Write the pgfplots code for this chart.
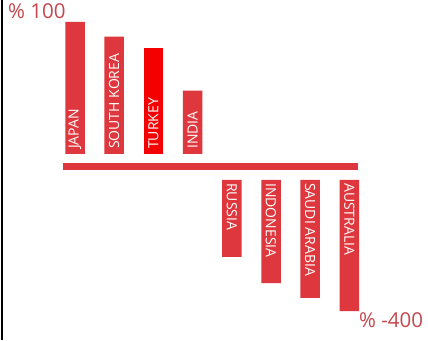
\documentclass[border=0pt]{standalone}
\usepackage{pgfplots}
\pgfplotsset{compat=1.18}
\usepackage{fontspec}
\setmainfont{Open Sans}
\definecolor{barred}{RGB}{222,56,62}
\definecolor{turkred}{RGB}{245,0,0}
\definecolor{labred}{RGB}{196,72,78}
\begin{document}
\begin{tikzpicture}[x=1pt,y=1pt]
\useasboundingbox (0,0) rectangle (428,340);
\fill[white] (0,0) rectangle (428,340);
% left vertical line
\fill[black] (1,0) rectangle (3,340);
% top axis: positive values
\begin{axis}[
  at={(35.8pt,186pt)}, anchor=south west,
  scale only axis, x=39.2pt, y=1.32pt,
  xmin=-1, xmax=8, ymin=0, ymax=100,
  axis lines=none, clip=false,
  ybar, bar width=19.5pt, bar shift=0pt,
]
\addplot[fill=barred, draw=none] coordinates {(0,100) (1,89) (3,48)};
\addplot[fill=turkred, draw=none] coordinates {(2,80)};
\foreach \i/\name in {0/JAPAN,1/SOUTH KOREA,2/TURKEY,3/INDIA}{
  \edef\tmp{\noexpand\node[rotate=90, anchor=west, text=white, font=\noexpand\fontsize{14}{14}\noexpand\selectfont, inner sep=0pt] at (axis cs:\i,0) {\noexpand\hspace{5pt}\name};}
  \tmp
}
\end{axis}
% bottom axis: negative values
\begin{axis}[
  at={(35.8pt,29pt)}, anchor=south west,
  scale only axis, x=39.2pt, y=0.3275pt,
  xmin=-1, xmax=8, ymin=-400, ymax=0,
  axis lines=none, clip=false,
  ybar, bar width=19.5pt, bar shift=0pt,
]
\addplot[fill=barred, draw=none] coordinates {(4,-235) (5,-315) (6,-360) (7,-400)};
\foreach \i/\name in {4/RUSSIA,5/INDONESIA,6/SAUDI ARABIA,7/AUSTRALIA}{
  \edef\tmp{\noexpand\node[rotate=-90, anchor=west, text=white, font=\noexpand\fontsize{14}{14}\noexpand\selectfont, inner sep=0pt] at (axis cs:\i,0) {\noexpand\hspace{3pt}\name};}
  \tmp
}
\end{axis}
% baseline bar
\fill[barred] (63,170) rectangle (358,177);
% scale labels
\node[anchor=base west, inner sep=0pt, text=labred, font=\fontsize{20.5}{20.5}\selectfont] at (8,321) {\% 100};
\node[anchor=base west, inner sep=0pt, text=labred, font=\fontsize{20.5}{20.5}\selectfont] at (359,13) {\% -400};
\end{tikzpicture}
\end{document}
